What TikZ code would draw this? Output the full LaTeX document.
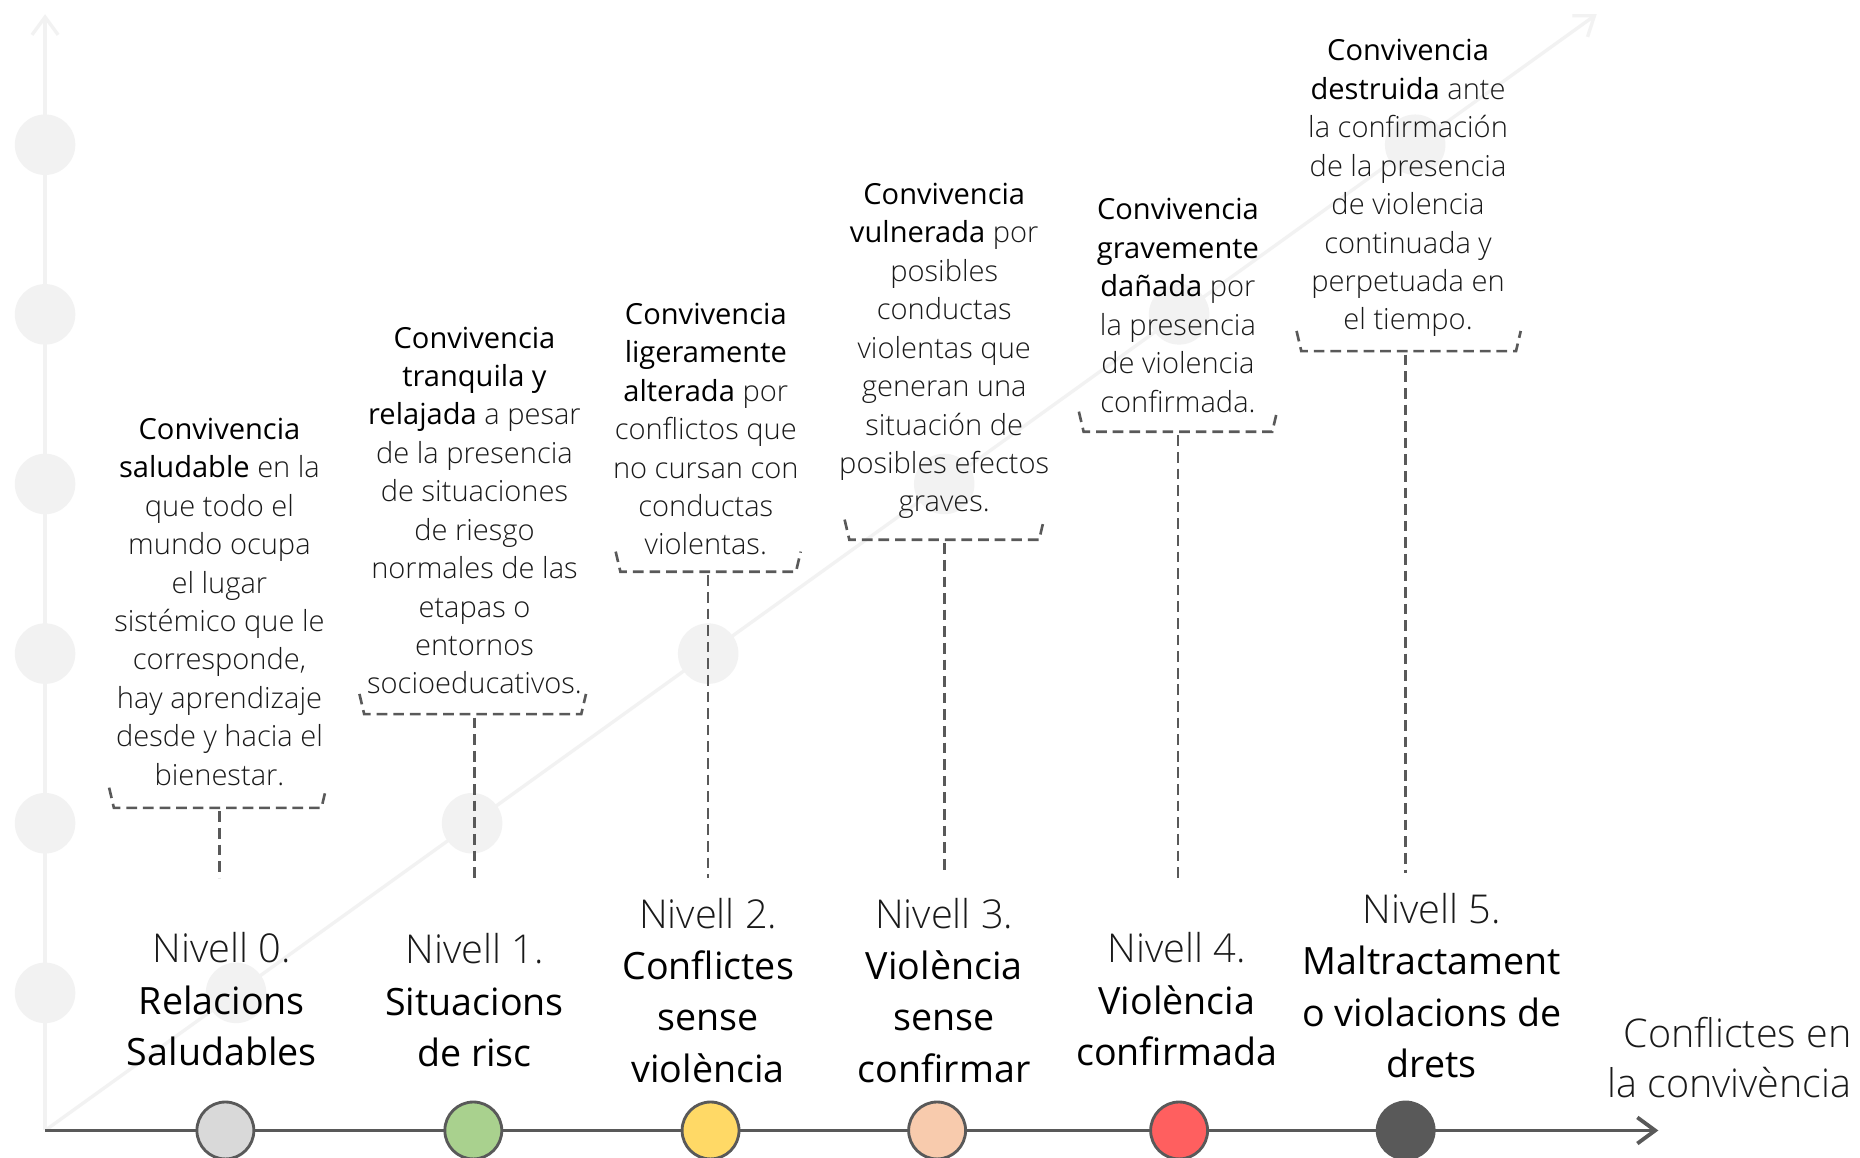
\documentclass[tikz,border=0pt]{standalone}
\usepackage{fontspec}
\setmainfont{Open Sans Light}
\newfontfamily\regf{Open Sans}
\usetikzlibrary{arrows.meta,calc}
\definecolor{axisgray}{HTML}{595959}
\definecolor{ghostgray}{HTML}{F2F2F2}
\definecolor{txt}{HTML}{1A1A1A}
\definecolor{cA}{HTML}{D9D9D9}
\definecolor{cB}{HTML}{A9D18E}
\definecolor{cC}{HTML}{FFD966}
\definecolor{cD}{HTML}{F8CBAD}
\definecolor{cE}{HTML}{FF5F5F}
\definecolor{cF}{HTML}{595959}
\newcommand{\emp}[1]{{\regf\color{black}#1}}
\newcommand{\lvlname}[1]{{\fontsize{33.5}{43.3}\selectfont\color{txt}#1}}
\begin{document}
\begin{tikzpicture}[x=1pt,y=-1pt,
  desc/.style={anchor=north, align=center, inner sep=0pt, text=txt, font=\fontsize{24.5}{32.4}\selectfont},
  ttl/.style={anchor=north, align=center, inner sep=0pt, text=black, font=\fontsize{31.7}{43.3}\selectfont},
  ghost/.style={circle, fill=ghostgray, minimum size=51pt, inner sep=0pt},
  lvl/.style={circle, draw=axisgray, line width=2.4pt, minimum size=48pt, inner sep=0pt},
  dashln/.style={draw=axisgray, line width=2.2pt, dash pattern=on 9pt off 5pt},
  lightaxis/.style={draw=ghostgray, line width=2.8pt, -{Straight Barb[length=15pt,width=22pt]}},
]
\fill[white] (0,0) rectangle (1568,976);
\useasboundingbox (0,0) rectangle (1568,976);

% axes coordinates
\coordinate (O) at (38,953);
\coordinate (xend) at (1398,953);
\coordinate (yend) at (38,12);
\coordinate (dend) at (1346,12);

% light background axes
\draw[lightaxis] (O) -- (yend);
\draw[lightaxis] (O) -- (dend);

% ghost circles
\foreach \yy [count=\i] in {837,694,551,408,265,122}{
  \node[ghost] (gv\i) at (38,\yy) {};
}
\foreach \xx/\yy [count=\i] in {199/837,398/694,597/551,796/408,994/265,1193/122}{
  \node[ghost] (gd\i) at (\xx,\yy) {};
}

% descriptions
\node[desc] (d0) at (185,347.5) {\strut\emp{Convivencia}\\\emp{saludable} en la\\que todo el\\mundo ocupa\\el lugar\\sistémico que le\\corresponde,\\hay aprendizaje\\desde y hacia el\\bienestar.};
\node[desc] (d1) at (400,270.5) {\strut\emp{Convivencia}\\\emp{tranquila y}\\\emp{relajada} a pesar\\de la presencia\\de situaciones\\de riesgo\\normales de las\\etapas o\\entornos\\socioeducativos.};
\node[desc] (d2) at (595,250.5) {\strut\emp{Convivencia}\\\emp{ligeramente}\\\emp{alterada} por\\conflictos que\\no cursan con\\conductas\\violentas.};
\node[desc] (d3) at (796,149.5) {\strut\emp{Convivencia}\\\emp{vulnerada} por\\posibles\\conductas\\violentas que\\generan una\\situación de\\posibles efectos\\graves.};
\node[desc] (d4) at (993,162.5) {\strut\emp{Convivencia}\\\emp{gravemente}\\\emp{dañada} por\\la presencia\\de violencia\\confirmada.};
\node[desc] (d5) at (1187,28.5) {\strut\emp{Convivencia}\\\emp{destruida} ante\\la confirmación\\de la presencia\\de violencia\\continuada y\\perpetuada en\\el tiempo.};

% brackets and connectors
\foreach \k/\cx/\yb/\w in {0/183.5/681/91.5, 1/398.5/602/95.5, 2/597/482/78, 3/796/455/84, 4/993/364/83.5, 5/1187.5/296/94.5}{
  \coordinate (b\k) at (\cx,\yb);
  \draw[dashln] ($(b\k)+(-\w,-17)$) -- ($(b\k)+(-\w+4,0)$) -- ($(b\k)+(\w-4,0)$) -- ($(b\k)+(\w,-17)$);
}
\coordinate (e0) at (185,740);
\coordinate (e1) at (400,740);
\coordinate (e2) at (597,740);
\coordinate (e3) at (796,736);
\coordinate (e4) at (993,740);
\coordinate (e5) at (1185,736);
\draw[dashln] ($(b0)+(1.5,3)$) -- (e0);
\draw[dashln] ($(b1)+(1.5,3)$) -- (e1);
\draw[dashln] ($(b2)+(0,3)$) -- (e2);
\draw[dashln] ($(b3)+(0,3)$) -- (e3);
\draw[dashln] ($(b4)+(0,3)$) -- (e4);
\draw[dashln] ($(b5)+(-2.5,3)$) -- (e5);

% titles
\node[ttl] (t0) at (187,781) {\strut\lvlname{Nivell 0.}\\\emp{Relacions}\\\emp{Saludables}};
\node[ttl] (t1) at (400,782) {\strut\lvlname{Nivell 1.}\\\emp{Situacions}\\\emp{de risc}};
\node[ttl] (t2) at (597,752) {\strut\lvlname{Nivell 2.}\\\emp{Conflictes}\\\emp{sense}\\\emp{violència}};
\node[ttl] (t3) at (796,752) {\strut\lvlname{Nivell 3.}\\\emp{Violència}\\\emp{sense}\\\emp{confirmar}};
\node[ttl] (t4) at (992,781) {\strut\lvlname{Nivell 4.}\\\emp{Violència}\\\emp{confirmada}};
\node[ttl] (t5) at (1207,748) {\strut\lvlname{Nivell 5.}\\\emp{Maltractament}\\\emp{o violacions de}\\\emp{drets}};

% axis label
\node[anchor=north east, align=right, inner sep=0pt, text=txt, font=\fontsize{33.3}{42.5}\selectfont] (xl) at (1561,853) {\strut Conflictes en\\la convivència};

% main horizontal axis
\draw[axisgray, line width=3.2pt, -{Straight Barb[length=15pt,width=22pt]}] (O) -- (xend);

% level circles
\node[lvl, fill=cA] (c0) at (190,953) {};
\node[lvl, fill=cB] (c1) at (399,953) {};
\node[lvl, fill=cC] (c2) at (599,953) {};
\node[lvl, fill=cD] (c3) at (790,953) {};
\node[lvl, fill=cE] (c4) at (994,953) {};
\node[lvl, fill=cF] (c5) at (1185,953) {};
\end{tikzpicture}
\end{document}
